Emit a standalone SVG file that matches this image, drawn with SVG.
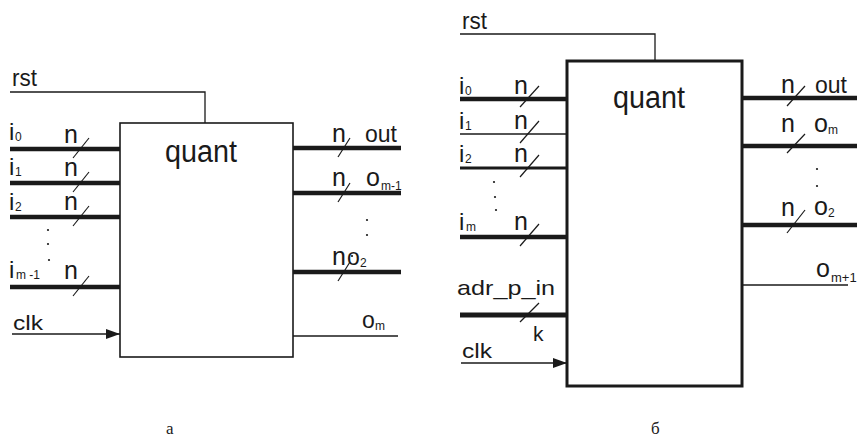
<svg xmlns="http://www.w3.org/2000/svg" width="857" height="440" viewBox="0 0 857 440">
<style>
text{font-family:"Liberation Sans",Arial,sans-serif;fill:#1a1a1a}
.lb{font-size:23px}
.nn{font-size:25px}
.ii{font-size:24px}
.sb{font-size:12px}
.q{font-size:31px}
.cap{font-family:"Liberation Serif","Times New Roman",serif;font-size:17px}
.w{stroke:#1a1a1a;fill:none}
.thick{stroke-width:4.5}
.thin{stroke-width:1.3}
.sl{stroke:#1a1a1a;stroke-width:1.2}
.box{fill:#fff;stroke:#1a1a1a}
.dot{fill:#1a1a1a}
</style>
<defs>
<marker id="arr" viewBox="0 0 14 10" refX="14" refY="5" markerWidth="14" markerHeight="10" markerUnits="userSpaceOnUse" orient="auto">
<path d="M0,0 L14,5 L0,10 z" fill="#1a1a1a"/>
</marker>
</defs>

<!-- Diagram a -->
<g id="a-box">
<rect class="box" x="120" y="123" width="173" height="234" stroke-width="1.6"/>
<text class="q" x="165" y="162" textLength="72" lengthAdjust="spacingAndGlyphs">quant</text>
</g>
<g id="a-connectors">
<polyline class="w thin" points="10,92 205,92 205,123"/>
<line class="w thick" x1="10" y1="149" x2="120" y2="149"/>
<line class="w thick" x1="10" y1="183" x2="120" y2="183"/>
<line class="w thick" x1="10" y1="217" x2="120" y2="217"/>
<line class="w thick" x1="10" y1="287" x2="120" y2="287"/>
<line class="w thin" x1="12" y1="334" x2="120" y2="334" marker-end="url(#arr)"/>
<line class="w thick" x1="293" y1="148" x2="401" y2="148"/>
<line class="w thick" x1="293" y1="193" x2="401" y2="193"/>
<line class="w thick" x1="293" y1="272" x2="401" y2="272"/>
<line class="w thin" x1="293" y1="336" x2="398" y2="336"/>
<line class="sl" x1="73" y1="158" x2="89" y2="138"/>
<line class="sl" x1="73" y1="192" x2="89" y2="172"/>
<line class="sl" x1="73" y1="226" x2="89" y2="206"/>
<line class="sl" x1="73" y1="296" x2="89" y2="276"/>
<line class="sl" x1="338" y1="157" x2="350" y2="138"/>
<line class="sl" x1="338" y1="202" x2="350" y2="183"/>
<line class="sl" x1="338" y1="281" x2="350" y2="262"/>
</g>
<g id="a-labels">
<text class="lb" x="12" y="86" textLength="25" lengthAdjust="spacingAndGlyphs">rst</text>
<text class="ii" x="9" y="140">i</text><text class="sb" x="15" y="141">0</text>
<text class="ii" x="9" y="175">i</text><text class="sb" x="15" y="176">1</text>
<text class="ii" x="9" y="210">i</text><text class="sb" x="15" y="211">2</text>
<text class="ii" x="9" y="278">i</text><text class="sb" x="16" y="279">m -1</text>
<text class="nn" x="64" y="143">n</text>
<text class="nn" x="64" y="176">n</text>
<text class="nn" x="64" y="210">n</text>
<text class="nn" x="64" y="279">n</text>
<circle class="dot" cx="48" cy="230" r="1.1"/>
<circle class="dot" cx="48" cy="244" r="1.1"/>
<circle class="dot" cx="49" cy="260" r="1.1"/>
<text x="13" y="330" textLength="30" lengthAdjust="spacingAndGlyphs" style="font-size:21px">clk</text>
<text class="nn" x="332" y="142">n</text>
<text class="lb" x="365" y="142">out</text>
<text class="nn" x="332" y="186">n</text>
<text x="366" y="186" style="font-size:25px">o</text><text class="sb" x="381" y="190">m-1</text>
<circle class="dot" cx="367" cy="220" r="1.1"/>
<circle class="dot" cx="367" cy="235" r="1.1"/>
<circle class="dot" cx="352" cy="256" r="1.1"/>
<text class="nn" x="332" y="265">n</text>
<text class="lb" x="347" y="265">o</text><text class="sb" x="360" y="267">2</text>
<text class="lb" x="362" y="328">o</text><text class="sb" x="375" y="330">m</text>
</g>

<!-- Diagram b -->
<g id="b-box">
<rect class="box" x="567" y="61" width="175" height="325" stroke-width="3"/>
<text class="q" x="613" y="108" textLength="72" lengthAdjust="spacingAndGlyphs">quant</text>
</g>
<g id="b-connectors">
<polyline class="w thin" points="460,34 655,34 655,61"/>
<line class="w thick" x1="460" y1="99" x2="567" y2="99"/>
<line class="w" stroke-width="1.6" x1="460" y1="134" x2="567" y2="134"/>
<line class="w" stroke-width="3" x1="460" y1="168" x2="567" y2="168"/>
<line class="w thick" x1="460" y1="237" x2="567" y2="237"/>
<line class="w" stroke-width="5" x1="460" y1="315" x2="567" y2="315"/>
<line class="w thin" x1="461" y1="363" x2="567" y2="363" marker-end="url(#arr)"/>
<line class="w thick" x1="742" y1="98" x2="857" y2="98"/>
<line class="w thick" x1="742" y1="146" x2="857" y2="146"/>
<line class="w thick" x1="742" y1="225" x2="857" y2="225"/>
<line class="w thin" x1="742" y1="285" x2="848" y2="285"/>
<line class="sl" x1="520" y1="107" x2="539" y2="86"/>
<line class="sl" x1="520" y1="143" x2="539" y2="121"/>
<line class="sl" x1="520" y1="177" x2="539" y2="155"/>
<line class="sl" x1="520" y1="246" x2="539" y2="224"/>
<line class="sl" x1="520" y1="322" x2="539" y2="303"/>
<line class="sl" x1="787" y1="106" x2="805" y2="86"/>
<line class="sl" x1="787" y1="153" x2="805" y2="134"/>
<line class="sl" x1="787" y1="233" x2="805" y2="210"/>
</g>
<g id="b-labels">
<text class="lb" x="462" y="29" textLength="25" lengthAdjust="spacingAndGlyphs">rst</text>
<text class="ii" x="459" y="94">i</text><text class="sb" x="465" y="95">0</text>
<text class="ii" x="459" y="129">i</text><text class="sb" x="465" y="130">1</text>
<text class="ii" x="459" y="162">i</text><text class="sb" x="465" y="163">2</text>
<text class="ii" x="459" y="230">i</text><text class="sb" x="466" y="231">m</text>
<text class="nn" x="514" y="94">n</text>
<text class="nn" x="514" y="129">n</text>
<text class="nn" x="514" y="162">n</text>
<text class="nn" x="514" y="230">n</text>
<circle class="dot" cx="494" cy="182" r="1.1"/>
<circle class="dot" cx="495" cy="197" r="1.1"/>
<circle class="dot" cx="496" cy="210" r="1.1"/>
<text x="457" y="295" textLength="98" lengthAdjust="spacingAndGlyphs" style="font-size:21px">adr_p_in</text>
<text x="533" y="341" style="font-size:21px">k</text>
<text x="462" y="358" textLength="30" lengthAdjust="spacingAndGlyphs" style="font-size:21px">clk</text>
<text class="nn" x="781" y="93">n</text>
<text class="lb" x="815" y="93">out</text>
<text class="nn" x="781" y="132">n</text>
<text x="814" y="132" style="font-size:25px">o</text><text class="sb" x="828" y="134">m</text>
<circle class="dot" cx="817" cy="169" r="1.1"/>
<circle class="dot" cx="817" cy="186" r="1.1"/>
<text class="nn" x="781" y="216">n</text>
<text x="814" y="215" style="font-size:25px">o</text><text class="sb" x="828" y="217">2</text>
<text x="816" y="277" style="font-size:25px">o</text><text class="sb" x="831" y="282" style="font-size:13px">m+1</text>
</g>

<g id="captions">
<text class="cap" x="166" y="434">а</text>
<text class="cap" x="651" y="434">б</text>
</g>
</svg>
